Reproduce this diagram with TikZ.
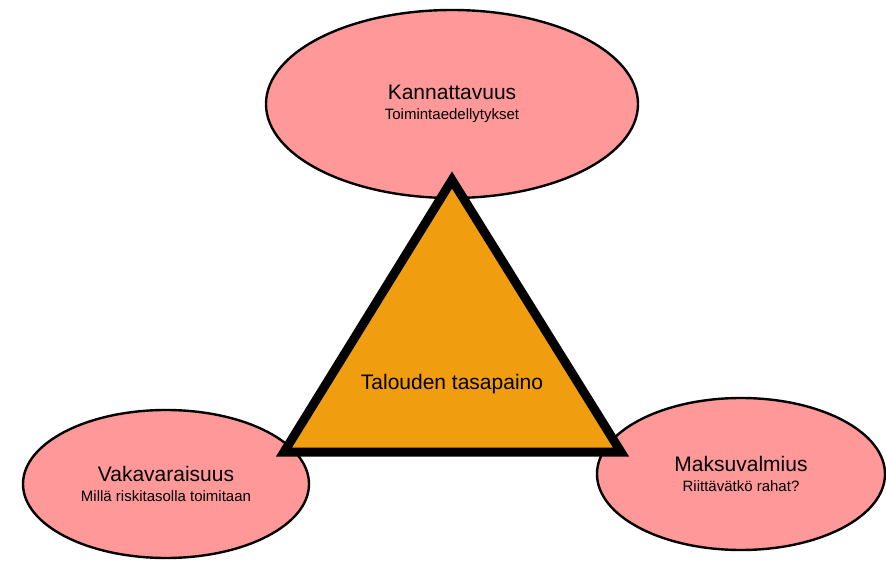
\documentclass[tikz,border=0pt]{standalone}
\usepackage{fontspec}
\setmainfont{Liberation Sans}
\usetikzlibrary{shapes.geometric}

\definecolor{rosy}{RGB}{255,153,153}
\definecolor{amber}{RGB}{240,158,16}

\newcommand{\subtext}[1]{{\fontsize{15}{17}\selectfont #1}}

\begin{document}
\begin{tikzpicture}[
x=1pt, y=-1pt,
goal/.style = {draw, ellipse, fill=rosy, line width=2.4pt, inner sep=0pt, align=center,
  font=\fontsize{21}{20}\selectfont},
big label/.style = {font=\fontsize{21}{24}\selectfont},
]
\useasboundingbox (0,0) rectangle (886,561);

\coordinate (T) at (452,180);
\coordinate (L) at (284,452);
\coordinate (R) at (621,452);

\node (K) [goal, minimum width=372pt, minimum height=188pt] at (452,104)
  {Kannattavuus\\\subtext{Toimintaedellytykset}};
\node (V) [goal, minimum width=286pt, minimum height=148pt] at (166,484)
  {Vakavaraisuus\\\subtext{Millä riskitasolla toimitaan}};
\node (M) [goal, minimum width=288pt, minimum height=152pt] at (741,474)
  {Maksuvalmius\\\subtext{Riittävätkö rahat?}};

\filldraw[fill=amber, line width=9pt, miter limit=10] (T) -- (L) -- (R) -- cycle;
\node (B) [big label] at (452,384) {Talouden tasapaino};

\end{tikzpicture}
\end{document}
